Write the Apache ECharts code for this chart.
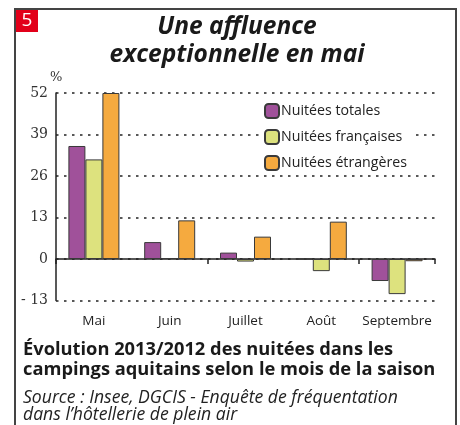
<!DOCTYPE html>
<html><head><meta charset="utf-8">
<script src="https://cdn.jsdelivr.net/npm/echarts@6/dist/echarts.min.js"></script>
<style>html,body{margin:0;padding:0;background:#fff}#c{width:460px;height:425px}</style>
</head><body><div id="c"></div>
<script>
const categories = ['Mai', 'Juin', 'Juillet', 'Août', 'Septembre'];
const totales = [35.4, 5.3, 2.0, 0, -6.9];
const francaises = [31.2, 0.3, -0.8, -3.8, -11.0];
const etrangeres = [52.0, 12.1, 7.0, 11.7, -0.7];
const seriesNames = ['Nuitées totales', 'Nuitées françaises', 'Nuitées étrangères'];
const colors = ['#A0519A', '#DDE27E', '#F5AA3F'];
const yTicks = [-13, 0, 13, 26, 39, 52];

const FONT = '"Open Sans"';
const SERIF = '"DejaVu Serif"';
const chart = echarts.init(document.getElementById('c'), null, {renderer: 'canvas'});
const mk = (name, data, i) => ({
  name, type: 'bar', data, barWidth: 17, barGap: '0%', xAxisIndex: 0,
  itemStyle: {color: colors[i], borderColor: '#3a3a3a', borderWidth: 1},
  animation: false
});
chart.setOption({
  animation: false,
  textStyle: {fontFamily: FONT},
  grid: {left: 56, right: 25, top: 93, bottom: 124.5, containLabel: false},
  legend: {
    orient: 'vertical', left: 262, top: 101, itemWidth: 14, itemHeight: 14, itemGap: 10,
    backgroundColor: '#fff', padding: [2, 4, 2, 2],
    textStyle: {fontFamily: FONT, fontSize: 14.2, color: '#222', padding: [0, 0, 0, -3]},
    data: seriesNames
  },
  xAxis: [{
    type: 'category', data: categories,
    axisLine: {onZero: true, lineStyle: {color: '#222', width: 1.5}},
    axisTick: {show: true, length: 5, inside: false, lineStyle: {color: '#222', width: 1.5}},
    axisLabel: {show: false},
    splitLine: {show: false}
  }, {
    type: 'category', data: categories, position: 'bottom',
    axisLine: {show: false, onZero: false},
    axisTick: {show: false},
    axisLabel: {show: true, interval: 0, margin: 14, fontFamily: FONT, fontSize: 13.5, color: '#222'},
    splitLine: {show: false}
  }],
  yAxis: {
    type: 'value', min: yTicks[0], max: yTicks[yTicks.length - 1], interval: 13,
    axisLine: {show: true, lineStyle: {color: '#222', width: 1.5}},
    axisTick: {show: false},
    axisLabel: {margin: 8, fontFamily: SERIF, fontSize: 14, color: '#333',
      formatter: v => v < 0 ? '- ' + Math.abs(v) : String(v)},
    splitLine: {show: true, lineStyle: {color: '#222', width: 1.5, type: [2.5, 5.5]}}
  },
  series: [mk(seriesNames[0], totales, 0), mk(seriesNames[1], francaises, 1), mk(seriesNames[2], etrangeres, 2)],
  graphic: [
    {type: 'rect', shape: {x: 15, y: 9, width: 441, height: 440}, style: {fill: 'none', stroke: '#444', lineWidth: 2}},
    {type: 'rect', shape: {x: 16, y: 10, width: 22, height: 22}, style: {fill: '#E2001A'}},
    {type: 'text', x: 27, y: 21, style: {text: '5', fill: '#fff', font: '19px ' + FONT, textAlign: 'center', textVerticalAlign: 'middle'}},
    {type: 'text', x: 237, y: 27, style: {text: 'Une affluence', fill: '#1a1a1a', font: 'italic bold 24.5px ' + FONT, textAlign: 'center', textVerticalAlign: 'middle'}},
    {type: 'text', x: 237, y: 55, style: {text: 'exceptionnelle en mai', fill: '#1a1a1a', font: 'italic bold 24.5px ' + FONT, textAlign: 'center', textVerticalAlign: 'middle'}},
    {type: 'text', x: 50, y: 78, style: {text: '%', fill: '#333', font: '13px ' + SERIF, textVerticalAlign: 'middle'}},
    {type: 'text', x: 23, y: 350, style: {text: 'Évolution 2013/2012 des nuitées dans les', fill: '#1a1a1a', font: 'bold 18.3px ' + FONT, textVerticalAlign: 'middle'}},
    {type: 'text', x: 23, y: 370, style: {text: 'campings aquitains selon le mois de la saison', fill: '#1a1a1a', font: 'bold 18.3px ' + FONT, textVerticalAlign: 'middle'}},
    {type: 'text', x: 23, y: 398, style: {text: 'Source : Insee, DGCIS - Enquête de fréquentation', fill: '#222', font: 'italic 17.6px ' + FONT, textVerticalAlign: 'middle'}},
    {type: 'text', x: 23, y: 415, style: {text: 'dans l’hôtellerie de plein air', fill: '#222', font: 'italic 17.6px ' + FONT, textVerticalAlign: 'middle'}}
  ]
});
</script></body></html>
